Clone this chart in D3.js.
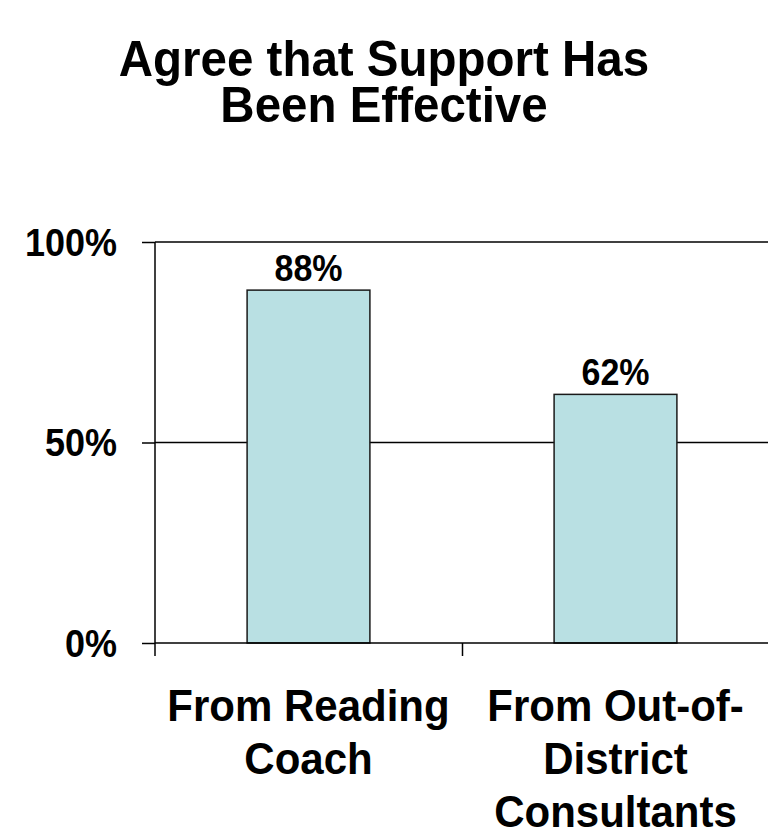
<!DOCTYPE html>
<html>
<head>
<meta charset="utf-8">
<script src="https://cdn.jsdelivr.net/npm/d3@7"></script>
<style>
  html, body { margin: 0; padding: 0; background: #fff; }
  svg { display: block; font-family: Arial, "Liberation Sans", sans-serif; }
</style>
</head>
<body>
<svg id="chart" width="768" height="832"></svg>
<script>
// Chart data
const titleLines = ["Agree that Support Has", "Been Effective"];
const categories = ["From Reading Coach", "From Out-of-District Consultants"];
const categoryLines = [["From Reading", "Coach"], ["From Out-of-", "District", "Consultants"]];
const values = [88, 62];
const valueLabels = ["88%", "62%"];
const yTicks = [0, 50, 100];
const yTickLabels = ["0%", "50%", "100%"];

const svg = d3.select("#chart");
const margin = { top: 242, right: -1, bottom: 189, left: 155 };
const W = 768, H = 832;
const plotW = W - margin.left - margin.right;
const plotH = H - margin.top - margin.bottom;

// Title (slightly tall lettering)
svg.append("g").selectAll("text")
  .data(titleLines).join("text")
  .attr("transform", (d, i) => `translate(384,${76 + i * 46}) scale(1,1.06)`)
  .attr("text-anchor", "middle")
  .attr("font-size", 47.5)
  .attr("font-weight", "bold")
  .attr("fill", "#000")
  .text(d => d);

const g = svg.append("g").attr("transform", `translate(${margin.left},${margin.top})`);

const x = d3.scaleBand().domain(categories).range([0, plotW]).paddingInner(0.6).paddingOuter(0.3);
const xOuter = d3.scaleBand().domain(categories).range([0, plotW]);
const y = d3.scaleLinear().domain([0, 100]).range([plotH, 0]);

// Horizontal gridlines
g.append("g").selectAll("line")
  .data(yTicks.filter(t => t > 0)).join("line")
  .attr("x1", 0).attr("x2", plotW)
  .attr("y1", d => y(d)).attr("y2", d => y(d))
  .attr("stroke", "#000").attr("stroke-width", 1.5);

// Right frame line
g.append("line")
  .attr("x1", plotW - 0.5).attr("x2", plotW - 0.5)
  .attr("y1", 0).attr("y2", plotH)
  .attr("stroke", "#e6e6e6").attr("stroke-width", 1);

// Bars
g.append("g").selectAll("rect")
  .data(values).join("rect")
  .attr("x", (d, i) => x(categories[i]))
  .attr("width", x.bandwidth())
  .attr("y", d => y(d))
  .attr("height", d => y(0) - y(d))
  .attr("fill", "#b9e0e3")
  .attr("stroke", "#1a1a1a")
  .attr("stroke-width", 1.5);

// Value labels
g.append("g").selectAll("text")
  .data(values).join("text")
  .attr("transform", (d, i) => `translate(${x(categories[i]) + x.bandwidth() / 2},${y(d) - 9}) scale(1,1.08)`)
  .attr("text-anchor", "middle")
  .attr("font-size", 34)
  .attr("font-weight", "bold")
  .text((d, i) => valueLabels[i]);

// Y axis
const yAxis = d3.axisLeft(y).tickValues(yTicks).tickSize(13).tickFormat((d, i) => yTickLabels[i]);
const ya = g.append("g").call(yAxis);
ya.select(".domain").attr("stroke", "#000").attr("stroke-width", 1.5).attr("d", `M0,0V${plotH + 13}`);
ya.selectAll(".tick line").attr("stroke", "#000").attr("stroke-width", 1.5);
ya.selectAll(".tick text")
  .attr("x", null)
  .attr("dy", null)
  .attr("transform", "translate(-38,13) scale(1,1.08)")
  .attr("font-size", 36)
  .attr("font-weight", "bold")
  .attr("font-family", "Arial, 'Liberation Sans', sans-serif")
  .attr("fill", "#000");

// X axis baseline and ticks
const xAxis = d3.axisBottom(xOuter).tickSize(0).tickFormat("");
const xa = g.append("g").attr("transform", `translate(0,${plotH})`).call(xAxis);
xa.select(".domain").attr("stroke", "#000").attr("stroke-width", 1.5).attr("d", `M0,0H${plotW}`);
xa.selectAll(".tick").remove();
xa.append("g").selectAll("line")
  .data(categories.slice(1)).join("line")
  .attr("x1", d => Math.round(xOuter(d)) + 0.5).attr("x2", d => Math.round(xOuter(d)) + 0.5)
  .attr("y1", 0).attr("y2", 13)
  .attr("stroke", "#000").attr("stroke-width", 1.5);

// Category labels
const lab = g.append("g").selectAll("g")
  .data(categories).join("g")
  .attr("transform", d => `translate(${xOuter(d) + xOuter.bandwidth() / 2},${plotH})`);
lab.selectAll("text")
  .data((d, i) => categoryLines[i]).join("text")
  .attr("transform", (d, j) => `translate(0,${78 + j * 53}) scale(1,1.06)`)
  .attr("text-anchor", "middle")
  .attr("font-size", 42)
  .attr("font-weight", "bold")
  .text(d => d);
</script>
</body>
</html>
